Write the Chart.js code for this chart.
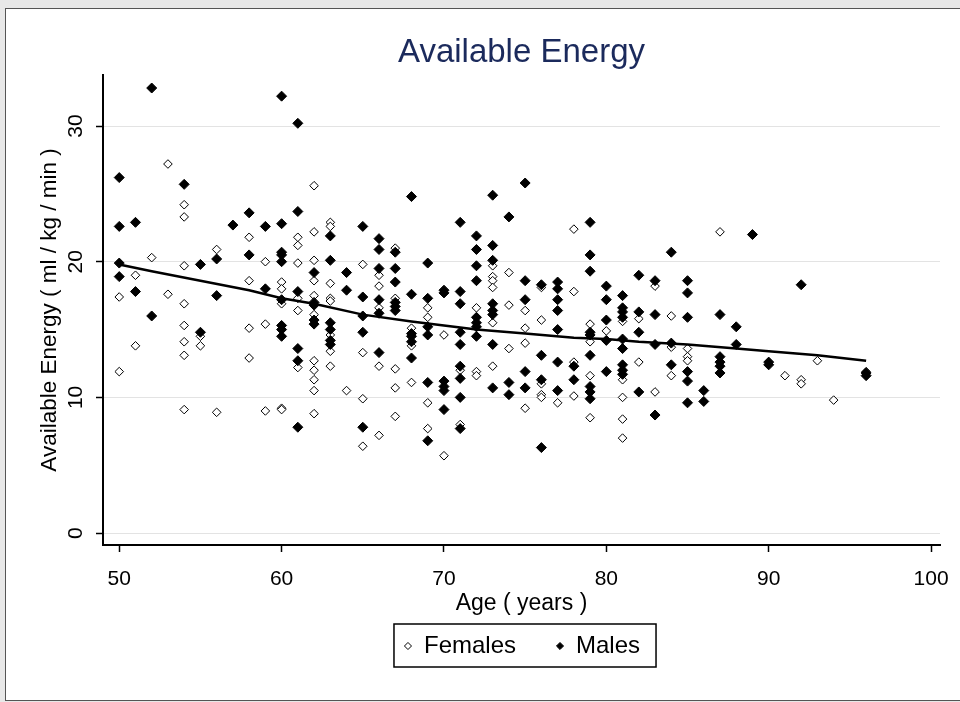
<!DOCTYPE html>
<html>
<head>
<meta charset="utf-8">
<title>Available Energy</title>
<script src="https://cdn.jsdelivr.net/npm/chart.js@4.4.0/dist/chart.umd.min.js"></script>
<style>
  html, body { margin: 0; padding: 0; width: 960px; height: 702px; overflow: hidden; background: #e8e8e8; }
  #frame { position: absolute; left: 5px; top: 8px; width: 990px; height: 691px; background: #fff; border: 1px solid #555; }
  #chart { position: absolute; left: 0; top: 0; }
</style>
</head>
<body>
<div id="frame"></div>
<canvas id="chart" width="1044" height="702"></canvas>
<script>
// ----------------------
// Data
// ----------------------
const femaleAge = [
  50, 50, 51, 51, 52, 53, 53,
  54, 54, 54, 54, 54, 54, 54, 54,
  55, 55, 56, 56,
  58, 58, 58, 58, 59, 59, 59,
  60, 60, 60, 60, 60,
  61, 61, 61, 61, 61, 61,
  62, 62, 62, 62, 62, 62, 62, 62, 62, 62, 62,
  63, 63, 63, 63, 63, 63, 63, 63,
  64, 65, 65, 65, 65,
  66, 66, 66, 66, 66,
  67, 67, 67, 67, 67,
  68, 68, 68, 69, 69, 69, 69,
  70, 70, 71, 71, 72, 72, 72,
  73, 73, 73, 73, 73, 73,
  74, 74, 74, 75, 75, 75, 75,
  76, 76, 76, 76, 76, 77,
  78, 78, 78, 78, 79, 79, 79, 79,
  80, 81, 81, 81, 81, 81,
  82, 82, 83, 83, 84, 84, 84, 85, 85, 85,
  87, 91, 92, 92, 93, 94, 96
];
const femaleEnergy = [
  17.4, 11.9, 19.0, 13.8, 20.3, 27.2, 17.6,
  24.2, 23.3, 19.7, 16.9, 15.3, 14.1, 13.1, 9.1,
  14.5, 13.8, 20.9, 8.9,
  21.8, 18.6, 15.1, 12.9, 20.0, 15.4, 9.0,
  18.5, 18.0, 16.9, 9.2, 9.1,
  21.8, 21.2, 19.9, 17.3, 16.4, 12.2,
  25.6, 22.2, 20.1, 18.6, 17.5, 16.1, 12.7, 12.0, 11.3, 10.5, 8.8,
  22.9, 22.6, 18.4, 17.3, 17.1, 14.6, 13.4, 12.3,
  10.5, 19.8, 13.3, 9.9, 6.4,
  19.0, 18.2, 16.6, 12.3, 7.2,
  21.0, 17.3, 12.1, 10.7, 8.6,
  15.1, 13.8, 11.1, 16.6, 15.9, 9.6, 7.7,
  14.6, 5.7, 12.0, 8.0, 16.6, 11.9, 11.6,
  19.7, 18.9, 18.6, 18.1, 15.5, 12.3,
  19.2, 16.8, 13.6, 16.4, 15.1, 14.0, 9.2,
  18.1, 15.7, 11.0, 10.2, 10.0, 9.6,
  22.4, 17.8, 12.6, 10.1, 15.4, 14.1, 11.6, 8.5,
  14.9, 15.6, 11.3, 10.0, 8.4, 7.0,
  15.8, 12.6, 18.2, 10.4, 16.0, 13.7, 11.6, 13.6, 13.0, 12.7,
  22.2, 11.6, 11.3, 11.0, 12.7, 9.8, 11.9
];

const maleAge = [
  50, 50, 50, 50, 51, 51, 52, 52, 54, 55, 55, 56, 56, 57, 58, 58, 59, 59,
  60, 60, 60, 60, 60, 60, 60, 60, 60,
  61, 61, 61, 61, 61, 61,
  62, 62, 62, 62, 62,
  63, 63, 63, 63, 63, 63,
  64, 64, 65, 65, 65, 65, 65,
  66, 66, 66, 66, 66, 66,
  67, 67, 67, 67, 67, 67,
  68, 68, 68, 68, 68, 68,
  69, 69, 69, 69, 69, 69,
  70, 70, 70, 70, 70, 70,
  71, 71, 71, 71, 71, 71, 71, 71, 71,
  72, 72, 72, 72, 72, 72, 72, 72,
  73, 73, 73, 73, 73, 73, 73, 73,
  74, 74, 74, 75, 75, 75, 75, 75,
  76, 76, 76, 76,
  77, 77, 77, 77, 77, 77, 77,
  78, 78,
  79, 79, 79, 79, 79, 79, 79, 79, 79,
  80, 80, 80, 80, 80,
  81, 81, 81, 81, 81, 81, 81, 81, 81,
  82, 82, 82, 82, 83, 83, 83, 83,
  84, 84, 84, 85, 85, 85, 85, 85, 85,
  86, 86, 87, 87, 87, 87, 87, 88, 88,
  89, 90, 90, 92, 96, 96
];
const maleEnergy = [
  26.2, 22.6, 19.9, 18.9, 22.9, 17.8, 32.8, 16.0, 25.7, 19.8, 14.8, 20.2, 17.5, 22.7, 23.6, 20.5, 22.6, 18.0,
  32.2, 22.8, 20.7, 20.5, 20.0, 17.2, 15.3, 15.0, 14.5,
  30.2, 23.7, 17.8, 13.6, 12.7, 7.8,
  19.2, 17.0, 16.8, 15.7, 15.4,
  21.9, 20.1, 15.5, 15.0, 14.2, 13.9,
  19.2, 17.9, 22.6, 17.4, 16.0, 14.8, 7.8,
  21.7, 20.9, 19.5, 17.2, 16.2, 13.3,
  20.7, 19.5, 18.5, 17.0, 16.7, 16.4,
  24.8, 17.6, 14.7, 14.5, 14.1, 12.9,
  19.9, 17.3, 15.2, 14.6, 11.1, 6.8,
  17.9, 17.7, 11.2, 10.8, 10.5, 9.1,
  22.9, 17.8, 16.9, 14.8, 13.9, 12.3, 11.4, 10.0, 7.7,
  21.9, 20.9, 19.7, 18.6, 15.9, 15.5, 15.2, 14.5,
  24.9, 21.2, 20.1, 16.9, 16.4, 16.1, 13.9, 10.7,
  23.3, 11.1, 10.2, 25.8, 18.6, 17.2, 11.9, 10.7,
  18.3, 13.1, 11.3, 6.3,
  18.5, 18.0, 17.2, 16.4, 15.0, 12.6, 10.5,
  12.3, 11.3,
  22.9, 20.5, 19.3, 14.8, 14.6, 13.1, 10.8, 10.4, 9.9,
  18.2, 17.2, 15.7, 14.2, 11.9,
  17.5, 16.6, 16.3, 15.9, 14.3, 13.6, 12.4, 12.0, 11.7,
  19.0, 16.3, 14.8, 10.4, 18.6, 16.1, 13.9, 8.7,
  20.7, 14.0, 12.4, 18.6, 17.7, 15.9, 11.9, 11.2, 9.6,
  10.5, 9.7, 16.1, 13.0, 12.6, 12.3, 11.8, 15.2, 13.9,
  22.0, 12.6, 12.4, 18.3, 11.8, 11.6
];

// smoothed fit line
const fitAge    = [50, 52, 55, 58, 60, 62, 65, 68, 70, 72, 75, 78, 80, 82, 85, 88, 90, 93, 96];
const fitEnergy = [19.8, 19.3, 18.6, 17.9, 17.3, 16.9, 16.1, 15.6, 15.3, 15.0, 14.7, 14.4, 14.3, 14.1, 13.9, 13.6, 13.4, 13.1, 12.7];

const xTicks = [50, 60, 70, 80, 90, 100];
const yTicks = [0, 10, 20, 30];

const FONT = "'Liberation Sans', Arial, sans-serif";

function toPoints(xs, ys) {
  return xs.map((x, i) => ({ x: x, y: ys[i] }));
}

// box round the legend, like the original
const legendFrame = {
  id: "legendFrame",
  afterDraw(chart) {
    const hb = chart.legend && chart.legend.legendHitBoxes;
    if (!hb || !hb.length) return;
    const ctx = chart.ctx;
    const left = Math.min(...hb.map(b => b.left)) - 10;
    const right = Math.max(...hb.map(b => b.left + b.width)) + 16;
    const top = hb[0].top - 10;
    const bottom = hb[0].top + hb[0].height + 9;
    ctx.save();
    ctx.strokeStyle = "#000";
    ctx.lineWidth = 1.5;
    ctx.strokeRect(left, top, right - left, bottom - top);
    ctx.restore();
  }
};

const ctx = document.getElementById("chart").getContext("2d");
new Chart(ctx, {
  type: "scatter",
  data: {
    datasets: [
      {
        label: "lowess",
        data: toPoints(fitAge, fitEnergy),
        showLine: true,
        borderColor: "#000",
        borderWidth: 2.5,
        pointRadius: 0,
        xAxisID: "x",
        yAxisID: "y",
        order: 0
      },
      {
        label: "Females",
        data: toPoints(femaleAge, femaleEnergy),
        pointStyle: "rectRot",
        pointRadius: 4.3,
        pointBackgroundColor: "#fff",
        pointBorderColor: "#000",
        pointBorderWidth: 1,
        xAxisID: "x",
        yAxisID: "y",
        order: 2
      },
      {
        label: "Males",
        data: toPoints(maleAge, maleEnergy),
        pointStyle: "rectRot",
        pointRadius: 5,
        pointBackgroundColor: "#000",
        pointBorderColor: "#000",
        pointBorderWidth: 1,
        xAxisID: "x",
        yAxisID: "y",
        order: 1
      }
    ]
  },
  options: {
    responsive: false,
    animation: false,
    layout: { padding: { left: 0, right: 0, top: 0, bottom: 34 } },
    plugins: {
      title: { display: false },
      tooltip: { enabled: false },
      legend: {
        position: "bottom",
        labels: {
          usePointStyle: true,
          boxWidth: 8,
          boxHeight: 5,
          padding: 40,
          color: "#000",
          font: { family: FONT, size: 24 },
          filter: item => item.text !== "lowess",
          sort: (a, b) => a.datasetIndex - b.datasetIndex
        }
      }
    },
    scales: {
      x: {
        type: "linear",
        position: "bottom",
        min: 49,
        max: 100.55,
        afterFit: s => { s.height = 49; },
        afterBuildTicks: s => { s.ticks = xTicks.map(v => ({ value: v })); },
        ticks: { color: "#000", padding: 15, font: { family: FONT, size: 21 } },
        grid: { drawOnChartArea: false, drawTicks: true, tickLength: 7, tickColor: "#000", tickWidth: 1.5 },
        border: { color: "#000", width: 2 },
        title: { display: true, text: "Age ( years )", color: "#000", font: { family: FONT, size: 23 }, padding: { top: 0, bottom: -23 } }
      },
      xt: {
        type: "linear",
        position: "top",
        min: 49,
        max: 100.55,
        afterFit: s => { s.height = 75; },
        ticks: { display: false },
        grid: { display: false },
        border: { display: false },
        title: { display: true, text: "Available Energy", color: "#1b2a5c", font: { family: FONT, size: 33 }, padding: { top: 33, bottom: 0 } }
      },
      y: {
        type: "linear",
        position: "left",
        min: -0.88,
        max: 33.76,
        afterFit: s => { s.width = 103; },
        afterBuildTicks: s => { s.ticks = yTicks.map(v => ({ value: v })); },
        ticks: {
          color: "#000", padding: 8,
          minRotation: 90, maxRotation: 90, crossAlign: "center",
          font: { family: FONT, size: 21 }
        },
        grid: { color: "#e3e3e3", lineWidth: 1, drawTicks: true, tickLength: 7, tickColor: "#000", tickWidth: 1.5 },
        border: { color: "#000", width: 2 },
        title: { display: true, text: "Available Energy ( ml / kg / min )", color: "#000", font: { family: FONT, size: 22.5 }, padding: { top: 36.5, bottom: 0 } }
      },
      // empty right-hand axis: keeps the plot at 940px while the legend centres on the plot
      yr: {
        type: "linear",
        position: "right",
        min: -0.88,
        max: 33.76,
        afterFit: s => { s.width = 104; },
        ticks: { display: false },
        grid: { display: false },
        border: { display: false }
      }
    }
  },
  plugins: [legendFrame]
});
</script>
</body>
</html>
